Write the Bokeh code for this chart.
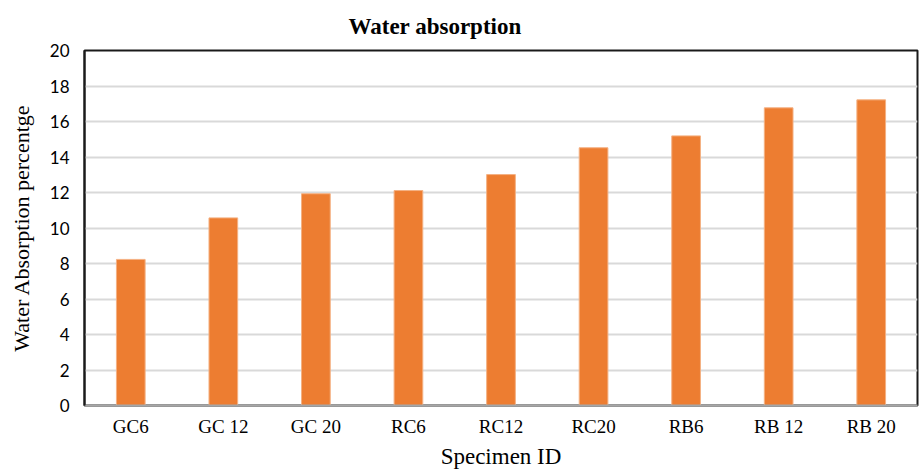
from bokeh.plotting import figure
from bokeh.models import ColumnDataSource, Range1d, FixedTicker
from bokeh.embed import file_html
from bokeh.resources import INLINE

categories = ["GC6", "GC 12", "GC 20", "RC6", "RC12", "RC20", "RB6", "RB 12", "RB 20"]
values = [8.23, 10.57, 11.93, 12.11, 13.01, 14.52, 15.19, 16.77, 17.22]
y_ticks = [0, 2, 4, 6, 8, 10, 12, 14, 16, 18, 20]

source = ColumnDataSource(data=dict(cat=categories, val=values))

p = figure(x_range=categories, width=919, height=471, output_backend="svg",
           toolbar_location=None, min_border_left=84, min_border_right=2,
           min_border_top=50, min_border_bottom=66)
p.y_range = Range1d(0, 20)

p.vbar(x="cat", top="val", width=0.31, source=source,
       fill_color="#ED7D31", line_color="#F4B183", line_width=1)

p.title.text = "Water absorption"
p.title.align = "left"
p.title.text_font = "Liberation Serif"
p.title.text_font_style = "bold"
p.title.text_font_size = "23px"
p.title.text_color = "#000000"
p.title.offset = 264
p.title.standoff = 23

p.outline_line_color = "#1a1a1a"
p.outline_line_width = 2

p.xgrid.grid_line_color = None
p.ygrid.grid_line_color = "#d9d9d9"
p.ygrid.grid_line_width = 2
p.yaxis.ticker = FixedTicker(ticks=y_ticks)

p.yaxis.axis_label = "Water Absorption percentge"
p.xaxis.axis_label = "Specimen ID"
for ax in (p.xaxis, p.yaxis):
    ax.axis_label_text_font = "Liberation Serif"
    ax.axis_label_text_font_style = "normal"
    ax.axis_label_text_color = "#000000"
    ax.major_tick_line_color = None
    ax.minor_tick_line_color = None

p.yaxis.axis_label_text_font_size = "22px"
p.xaxis.axis_label_text_font_size = "23px"

p.yaxis.axis_line_color = "#1a1a1a"
p.yaxis.axis_line_width = 2
p.yaxis.major_label_text_font = "Lato"
p.yaxis.major_label_text_font_size = "17px"
p.yaxis.major_label_text_color = "#000000"
p.yaxis.major_label_standoff = 9
p.yaxis.axis_label_standoff = 13

p.xaxis.axis_line_color = "#a6a6a6"
p.xaxis.axis_line_width = 2
p.xaxis.major_label_text_font = "Liberation Serif"
p.xaxis.major_label_text_font_size = "19px"
p.xaxis.major_label_text_color = "#000000"
p.xaxis.major_label_standoff = 4
p.xaxis.axis_label_standoff = 4

open("out.html", "w").write(file_html(p, INLINE))
